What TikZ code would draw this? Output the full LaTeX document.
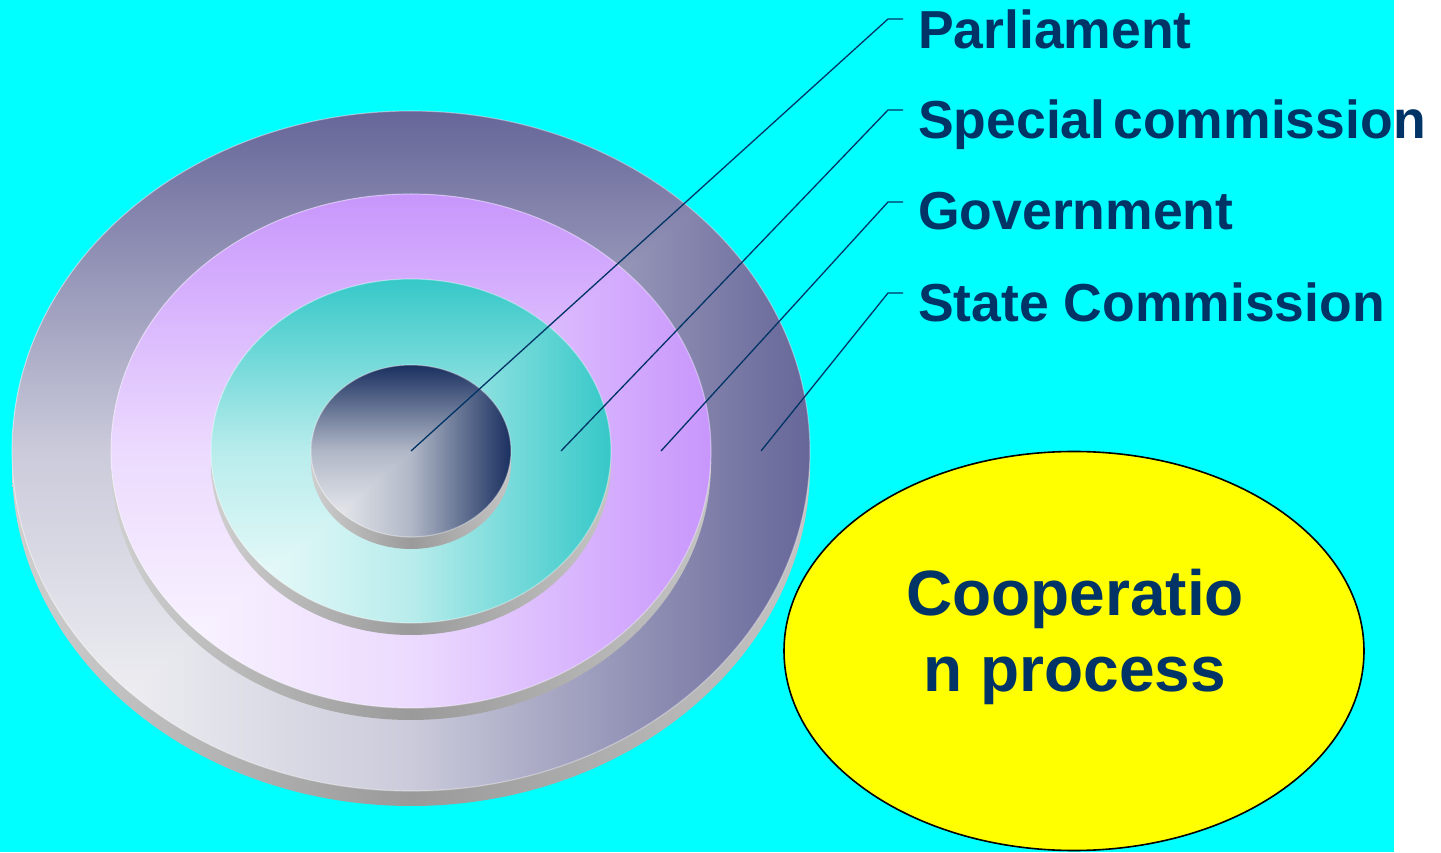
\documentclass[tikz,border=0pt]{standalone}
\usepackage{fontspec}
\setmainfont{Liberation Sans}
\usetikzlibrary{shapes.geometric}
\definecolor{bgcyan}{HTML}{00FFFF}
\definecolor{navytext}{HTML}{003366}
\definecolor{coopyellow}{HTML}{FFFF00}
\definecolor{edgeL}{HTML}{CFCFCF}
\definecolor{edgeM}{HTML}{9A9A9A}
\definecolor{edgeR}{HTML}{C4C4C4}
\definecolor{outerD}{HTML}{666699}
\definecolor{outerL}{HTML}{FAFAFA}
\definecolor{purpD}{HTML}{C896FC}
\definecolor{purpL}{HTML}{FDFBFF}
\definecolor{tealD}{HTML}{36C8C8}
\definecolor{tealL}{HTML}{F6FDFD}
\definecolor{innD}{HTML}{1A3060}
\definecolor{innL}{HTML}{F7F7F7}
\newcommand\diskdraw[7]{%
  \shade[left color=edgeL, right color=edgeR, middle color=edgeM]
    ({#1},{#2-#7}) ellipse [x radius=#3, y radius=#4];
  \begin{scope}
    \clip ({#1},{#2}) ellipse [x radius=#3, y radius=#4];
    \shade[left color=#6, right color=#5, middle color=#5!32!#6]
      ({#1-#3},{#2-#4}) rectangle ({#1+#3},{#2+#4});
    \begin{scope}
      \clip ({#1-#3},{#2-#4}) -- ({#1-#3},{#2+#4}) -- ({#1+#3},{#2+#4}) -- cycle;
      \shade[top color=#5, bottom color=#6, middle color=#5!32!#6]
        ({#1-#3},{#2-#4}) rectangle ({#1+#3},{#2+#4});
    \end{scope}
  \end{scope}
  \draw[white, opacity=0.35, line width=1.2pt] ({#1},{#2}) ellipse [x radius=#3, y radius=#4];
}
\tikzset{
  leader/.style={draw=navytext, line width=1.3pt},
  label/.style={anchor=base west, inner sep=0pt, text=navytext,
    font=\fontsize{53.5}{64}\selectfont\bfseries},
  coop/.style={ellipse, draw=black, line width=1.6pt, fill=coopyellow,
    minimum width=580pt, minimum height=399pt, inner sep=0pt},
  cooptext/.style={anchor=base, inner sep=0pt, text=navytext, align=center,
    font=\fontsize{64}{77}\selectfont\bfseries}
}
\begin{document}
\begin{tikzpicture}[x=1pt,y=1pt]
  \useasboundingbox (0,0) rectangle (1441,852);
  \fill[white] (0,0) rectangle (1441,852);
  \fill[bgcyan] (0,0) rectangle (1394,852);
  % stacked disks
  \diskdraw{411}{401}{399}{340}{outerD}{outerL}{15}
  \diskdraw{411}{401}{300}{257}{purpD}{purpL}{12}
  \diskdraw{411}{401}{200}{172}{tealD}{tealL}{12}
  \diskdraw{411}{401}{100}{86}{innD}{innL}{12}
  % leader points
  \coordinate (p1) at (411,401);
  \coordinate (p2) at (561,401);
  \coordinate (p3) at (661,401);
  \coordinate (p4) at (761,401);
  \coordinate (e1) at (888,833);
  \coordinate (e2) at (888,742);
  \coordinate (e3) at (888,650);
  \coordinate (e4) at (888,559);
  \coordinate (t1) at (903,833);
  \coordinate (t2) at (903,742);
  \coordinate (t3) at (903,650);
  \coordinate (t4) at (903,559);
  \draw[leader] (p1) -- (e1) -- (t1);
  \draw[leader] (p2) -- (e2) -- (t2);
  \draw[leader] (p3) -- (e3) -- (t3);
  \draw[leader] (p4) -- (e4) -- (t4);
  % labels
  \node[label] (l1) at (918,803) {Parliament};
  \node[label] (l2) at (918,713) {Special\hspace{0.15em}commission};
  \node[label] (l3) at (918,622) {Government};
  \node[label] (l4) at (918,530) {State Commission};
  % cooperation ellipse
  \node[coop] (coop) at (1074,201) {};
  \node[cooptext] (coopt) at (1075,160) {Cooperatio\\n process};
\end{tikzpicture}
\end{document}
